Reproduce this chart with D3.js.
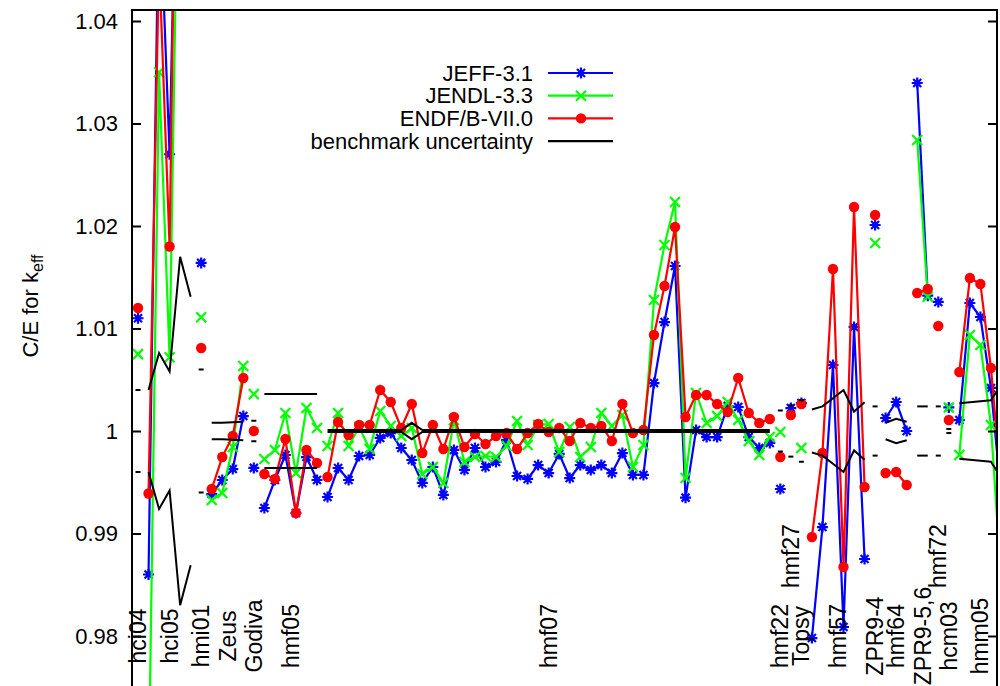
<!DOCTYPE html>
<html lang="en">
<head>
<meta charset="UTF-8">
<title>C/E for keff</title>
<script src="https://d3js.org/d3.v7.min.js"></script>
<style>
  body { margin: 0; background: #fff; }
  text { font-family: "Liberation Sans", Arial, sans-serif; }
</style>
</head>
<body>
<svg width="1000" height="686"></svg>
<script>
// benchmark groups: name, first case index, number of cases, label height
var groupNames = ["hci04", "hci05", "hmi01", "Zeus", "Godiva", "hmf05", "hmf07", "hmf22", "hmf27", "Topsy",
                  "hmf57", "ZPR9-4", "hmf64", "ZPR9-5,6", "hmf72", "hcm03", "hmm05"];
var groupStart = [0, 1, 6, 7, 11, 12, 18, 61, 62, 63, 64, 70, 71, 74, 76, 77, 78];
var groupSize  = [1, 5, 1, 4, 1, 6, 43, 1, 1, 1, 6, 1, 3, 2, 1, 1, 5];
var labelLevel = [0.98, 0.98, 0.98, 0.98, 0.98, 0.98, 0.98, 0.98, 0.9878, 0.98,
                  0.98, 0.98, 0.98, 0.98, 0.9878, 0.98, 0.98];

// C/E values per case index (null = no result)
var jeff = [1.0110, 0.9860, 1.0540, 1.0270, 1.0760, 1.0700, 1.0164,
  0.99385, 0.99522, 0.99629, 1.00146, 0.9964,
  0.99249, 0.99522, 0.99766, 0.99200, 0.99746, 0.99522,
  0.99356, 0.99639, 0.99522, 0.99756, 0.99766, 0.99932, 0.99980, 0.99834, 0.99717, 0.99493,
  0.99649, 0.99376, 0.99815, 0.99620, 0.99834, 0.99649, 0.99698, 0.99912, 0.99561, 0.99532,
  0.99668, 0.99590, 0.99776, 0.99541, 0.99668, 0.99620, 0.99668, 0.99590, 0.99785, 0.99571,
  0.99571, 1.00468, 1.01063, 1.01610, 0.99350, 1.00010, 0.99941, 0.99941, 1.00244, 1.00234,
  0.99941, 0.99834, 0.99883,
  0.99434, 1.00224, 1.00273,
  0.97980, 0.99063, 1.00644, 0.98088, 1.01015, 0.98751,
  1.02010, 1.00127, 1.00283, 1.00000, 1.03395, 1.01320, 1.01259, 1.00230,
  1.00107, 1.01249, 1.01112, 1.00420, 0.99340];
var jendl = [1.0075, 0.9650, 1.0350, 1.0072, 1.0700, 1.0700, 1.0111,
  0.99327, 0.99395, 0.99844, 1.00634, 1.0036,
  0.99727, 0.99815, 1.00176, 0.99590, 1.00224, 1.00029,
  0.99854, 1.00176, 0.99854, 1.00039, 0.99824, 1.00195, 1.00049, 0.99951, 1.00029, 0.99580,
  0.99649, 0.99493, 1.00107, 0.99698, 0.99746, 0.99756, 0.99746, 0.99854, 1.00098, 0.99863,
  1.00059, 1.00068, 0.99795, 1.00039, 0.99746, 0.99844, 1.00176, 1.00049, 1.00156, 0.99649,
  0.99863, 1.01278, 1.01815, 1.02234, 0.99541, 1.00371, 1.00078, 1.00146, 1.00283, 1.00107,
  0.99902, 0.99766, 0.99941,
  0.99990, null, 0.99834,
  null, null, null, null, null, null,
  1.01834, null, null, null, 1.02839, 1.01310, null, 1.00230,
  0.99766, 1.00937, 1.00839, 1.00059, 0.98500];
var endf = [1.0120, 0.9939, 1.0460, 1.0180, 1.0900, 1.0700, 1.0081,
  0.99434, 0.99746, 0.99951, 1.00517, 1.0000,
  0.99580, 0.99532, 0.99922, 0.99200, 0.99815, 0.99688,
  0.99551, 1.00088, 0.99961, 1.00059, 1.00059, 1.00400, 1.00283, 1.00029, 1.00263, 0.99785,
  1.00059, 0.99824, 1.00137, 0.99844, 0.99971, 0.99873, 0.99951, 0.99980, 0.99824, 0.99980,
  1.00068, 0.99990, 1.00029, 0.99902, 1.00078, 1.00029, 1.00049, 0.99902, 1.00263, 0.99980,
  1.00010, 1.00937, 1.01415, 1.01990, 1.00137, 1.00351, 1.00351, 1.00263, 1.00185, 1.00517,
  1.00176, 1.00078, 1.00117,
  0.99746, 1.00156, 1.00263,
  0.98966, 0.99785, 1.01580, 0.98673, 1.02185, 0.99454,
  1.02107, 0.99590, 0.99600, 0.99473, 1.01346, 1.01385, 1.01024, 1.00107,
  1.00576, 1.01493, 1.01434, 1.00615, 0.99440];
// benchmark uncertainty (1 sigma)
var sigma = [0.0040, 0.0040, 0.0076, 0.0058, 0.0170, 0.0131, 0.0060,
  0.0008, 0.0008, 0.00085, 0.0009, 0.0010,
  0.0036, 0.0036, 0.0036, 0.0036, 0.0036, 0.0036,
  0.0001, 0.0001, 0.0001, 0.0001, 0.0001, 0.0001, 0.0001, 0.0001, 0.0008, 0.0001,
  0.0001, 0.0001, 0.0001, 0.0001, 0.0001, 0.0001, 0.0001, 0.0001, 0.0001, 0.0001,
  0.0001, 0.0001, 0.0001, 0.0001, 0.0001, 0.0001, 0.0001, 0.0001, 0.0001, 0.0001,
  0.0001, 0.0001, 0.0001, 0.0001, 0.0001, 0.0001, 0.0001, 0.0001, 0.0001, 0.0001,
  0.0001, 0.0001, 0.0001,
  0.0020, 0.0025, 0.0030,
  0.0021, 0.0024, 0.0032, 0.0040, 0.0019, 0.0028,
  0.0024, 0.0008, 0.0012, 0.0009, 0.0024, 0.0024, 0.0024, 0.0002,
  0.0027, 0.0028, 0.0029, 0.0030, 0.0046];

var yTicks = [0.98, 0.99, 1, 1.01, 1.02, 1.03, 1.04];
var seriesNames = ["JEFF-3.1", "JENDL-3.3", "ENDF/B-VII.0", "benchmark uncertainty"];

var svg = d3.select("svg"),
    plotL = 132, plotR = 997, plotT = 10, plotB = 686;

var x = d3.scaleLinear().domain([0, 81]).range([138, 138 + 81 * 10.53]);
var y = d3.scaleLinear().domain([0.98, 1.04]).range([636, 21]);

svg.append("clipPath").attr("id", "plot")
   .append("rect").attr("x", plotL).attr("y", plotT)
   .attr("width", plotR - plotL).attr("height", plotB - plotT + 10);

var g = svg.append("g").attr("clip-path", "url(#plot)");

var markers = {
  star: "M-5.5,0H5.5M0,-5.5V5.5M-4,-4L4,4M-4,4L4,-4",
  cross: "M-5,-5L5,5M-5,5L5,-5"
};

var series = [
  {vals: jeff,  color: "#0000ff", mark: "star"},
  {vals: jendl, color: "#00ff00", mark: "cross"},
  {vals: endf,  color: "#ff0000", mark: "dot"}
];

function groupPoints(vals, k) {
  var pts = [];
  for (var i = groupStart[k]; i < groupStart[k] + groupSize[k]; i++) {
    if (vals[i] != null) pts.push({i: i, v: vals[i]});
  }
  return pts;
}

var line = d3.line().x(d => x(d.i)).y(d => y(d.v));

function drawMark(sel, s, px, py) {
  if (s.mark == "dot") {
    sel.append("circle").attr("cx", px).attr("cy", py).attr("r", 5.2).attr("fill", s.color);
  } else {
    sel.append("path").attr("transform", "translate(" + px + "," + py + ")")
       .attr("d", markers[s.mark]).attr("stroke", s.color)
       .attr("stroke-width", 2.2).attr("fill", "none");
  }
}

series.forEach(function(s) {
  var sg = g.append("g");
  groupNames.forEach(function(name, k) {
    var pts = groupPoints(s.vals, k);
    if (pts.length > 1) {
      sg.append("path").datum(pts).attr("d", line)
        .attr("fill", "none").attr("stroke", s.color)
        .attr("stroke-width", 2.2).attr("stroke-linejoin", "round");
    }
    pts.forEach(d => drawMark(sg, s, x(d.i), y(d.v)));
  });
});

// benchmark uncertainty band edges
var ug = g.append("g");
groupNames.forEach(function(name, k) {
  var pts = groupPoints(sigma, k);
  [1, -1].forEach(function(sign) {
    var edge = pts.map(d => ({i: d.i, v: 1 + sign * d.v}));
    if (edge.length > 1) {
      ug.append("path").datum(edge).attr("d", line)
        .attr("fill", "none").attr("stroke", "#000").attr("stroke-width", 2);
    } else {
      ug.append("line")
        .attr("x1", x(edge[0].i) - 2.5).attr("x2", x(edge[0].i) + 2.5)
        .attr("y1", y(edge[0].v)).attr("y2", y(edge[0].v))
        .attr("stroke", "#000").attr("stroke-width", 2);
    }
  });
});

// case labels
groupNames.forEach(function(name, k) {
  var cx = x(groupStart[k] + (groupSize[k] - 1) / 2);
  svg.append("text")
     .attr("transform", "translate(" + cx + "," + y(labelLevel[k]) + ") rotate(-90)")
     .attr("text-anchor", "middle").attr("dy", "0.35em")
     .attr("font-size", 23).text(name);
});

// axes and border
var yAxis = svg.append("g").attr("transform", "translate(" + plotL + ",0)")
  .call(d3.axisLeft(y).tickValues(yTicks).tickSize(-9).tickPadding(14)
          .tickFormat(d => String(+d.toFixed(2))));
yAxis.select(".domain").remove();
yAxis.selectAll("line").attr("stroke-width", 2);
yAxis.selectAll("text").attr("font-size", 22).attr("fill", "#000")
     .style("font-family", '"Liberation Sans", Arial, sans-serif');

var yRight = svg.append("g").attr("transform", "translate(" + plotR + ",0)")
  .call(d3.axisRight(y).tickValues(yTicks).tickSize(-9).tickFormat(""));
yRight.select(".domain").remove();
yRight.selectAll("line").attr("stroke-width", 2);

svg.append("path")
   .attr("d", "M" + plotL + "," + plotB + "V" + plotT + "H" + plotR + "V" + plotB)
   .attr("fill", "none").attr("stroke", "#000").attr("stroke-width", 2);

// y title
svg.append("text")
   .attr("transform", "translate(38,306) rotate(-90)")
   .attr("text-anchor", "middle").attr("font-size", 22)
   .text("C/E for k")
   .append("tspan").attr("dy", 5).attr("font-size", 16).text("eff");

// legend
var legend = svg.append("g");
var legendStyle = [series[0], series[1], series[2], {color: "#000", mark: null}];
seriesNames.forEach(function(name, k) {
  var ly = 73 + k * 22.7;
  legend.append("text").attr("x", 533).attr("y", ly).attr("dy", "0.35em")
        .attr("text-anchor", "end").attr("font-size", 22).text(name);
  legend.append("line").attr("x1", 548).attr("x2", 613).attr("y1", ly).attr("y2", ly)
        .attr("stroke", legendStyle[k].color).attr("stroke-width", 2.2);
  if (legendStyle[k].mark) drawMark(legend, legendStyle[k], 581, ly);
});
</script>
</body>
</html>
